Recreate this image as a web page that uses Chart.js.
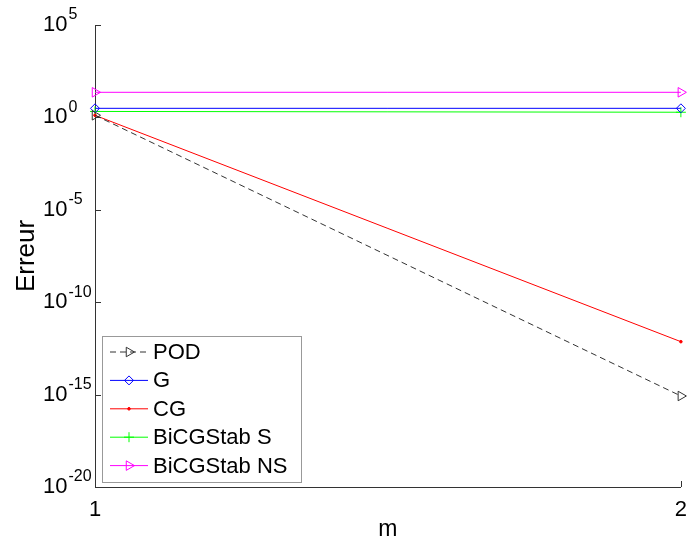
<!DOCTYPE html>
<html>
<head>
<meta charset="utf-8">
<script src="https://cdn.jsdelivr.net/npm/chart.js@4"></script>
<style>
  html, body { margin: 0; padding: 0; background: #fff; }
  #wrap { width: 689px; height: 545px; }
</style>
</head>
<body>
<div id="wrap"><canvas id="chart" width="689" height="545"></canvas></div>
<script>
// x positions (m) and the error values
const mValues = [1, 2];
const podErr = [1.3, 8.4e-16];
const gErr = [3.1, 3.1];
const cgErr = [1.3, 7.3e-13];
const bicgSErr = [2.1, 1.9];
const bicgNSErr = [22.8, 22.8];

const seriesNames = ['POD', 'G', 'CG', 'BiCGStab S', 'BiCGStab NS'];
const yTickExps = [5, 0, -5, -10, -15, -20];
const xTickValues = [1, 2];

const FONT = 'Arial, "Liberation Sans", sans-serif';

function pts(vals) {
    return mValues.map((m, i) => ({ x: m, y: vals[i] }));
}

//Draws the y tick labels as 10 with a raised exponent, the inward ticks and the legend box
const matlabLook = {
    id: 'matlabLook',
    afterDraw(chart) {
        const ctx = chart.ctx;
        const y = chart.scales.y;
        const x = chart.scales.x;
        const area = chart.chartArea;

        ctx.save();
        ctx.strokeStyle = '#333';
        ctx.lineWidth = 1;
        // y ticks pointing inward
        yTickExps.forEach(e => {
            const py = Math.round(y.getPixelForValue(Math.pow(10, e))) + 0.5;
            ctx.beginPath();
            ctx.moveTo(area.left, py);
            ctx.lineTo(area.left + 6, py);
            ctx.stroke();
        });
        // x ticks pointing up
        xTickValues.forEach(v => {
            const px = Math.round(x.getPixelForValue(v)) + 0.5;
            ctx.beginPath();
            ctx.moveTo(px, area.bottom);
            ctx.lineTo(px, area.bottom - 6);
            ctx.stroke();
        });

        // y tick labels: "10" + superscript exponent
        ctx.fillStyle = '#000';
        ctx.textBaseline = 'middle';
        ctx.textAlign = 'left';
        yTickExps.forEach(e => {
            const py = y.getPixelForValue(Math.pow(10, e));
            ctx.font = '22px ' + FONT;
            ctx.fillText('10', 43, py);
            const w = ctx.measureText('10').width;
            ctx.font = '16px ' + FONT;
            ctx.fillText(String(e), 43 + w + 1, py - 10);
        });

        // legend
        const box = { left: 102.5, top: 336.5, right: 301.5, bottom: 482.5 };
        ctx.fillStyle = '#fff';
        ctx.fillRect(box.left, box.top, box.right - box.left, box.bottom - box.top);
        ctx.strokeStyle = '#999';
        ctx.strokeRect(box.left, box.top, box.right - box.left, box.bottom - box.top);

        chart.data.datasets.forEach((ds, i) => {
            const cy = 352 + i * 28.4;
            ctx.save();
            ctx.strokeStyle = ds.borderColor;
            ctx.lineWidth = 1;
            ctx.setLineDash(ds.borderDash || []);
            ctx.beginPath();
            ctx.moveTo(110, cy);
            ctx.lineTo(148, cy);
            ctx.stroke();
            ctx.setLineDash([]);
            ctx.strokeStyle = ds.pointBorderColor;
            ctx.fillStyle = ds.pointBackgroundColor;
            Chart.helpers.drawPoint(ctx, {
                pointStyle: ds.pointStyle,
                rotation: ds.pointRotation || 0,
                radius: ds.pointRadius,
                borderWidth: 1
            }, 129, cy);
            ctx.restore();
            ctx.fillStyle = '#000';
            ctx.font = '22px ' + FONT;
            ctx.textBaseline = 'middle';
            ctx.fillText(ds.label, 153, cy + 1);
        });
        ctx.restore();
    }
};

let ctx = document.getElementById('chart').getContext('2d');

window.chart = new Chart(ctx, {
    type: 'line',
    data: {
        datasets: [{
            label: seriesNames[0],
            data: pts(podErr),
            borderColor: '#333',
            borderDash: [6, 4],
            pointStyle: 'triangle',
            pointRotation: 90,
            pointRadius: 5.5,
            pointBorderColor: '#333',
            pointBackgroundColor: 'rgba(0,0,0,0)'
        }, {
            label: seriesNames[1],
            data: pts(gErr),
            borderColor: '#0000ff',
            pointStyle: 'rectRot',
            pointRadius: 4.5,
            pointBorderColor: '#0000ff',
            pointBackgroundColor: 'rgba(0,0,0,0)'
        }, {
            label: seriesNames[2],
            data: pts(cgErr),
            borderColor: '#ff0000',
            pointStyle: 'circle',
            pointRadius: 1.3,
            pointBorderColor: '#ff0000',
            pointBackgroundColor: '#ff0000'
        }, {
            label: seriesNames[3],
            data: pts(bicgSErr),
            borderColor: '#00ff00',
            pointStyle: 'cross',
            pointRadius: 5,
            pointBorderColor: '#00ff00',
            pointBackgroundColor: 'rgba(0,0,0,0)'
        }, {
            label: seriesNames[4],
            data: pts(bicgNSErr),
            borderColor: '#ff00ff',
            pointStyle: 'triangle',
            pointRotation: 90,
            pointRadius: 5.5,
            pointBorderColor: '#ff00ff',
            pointBackgroundColor: 'rgba(0,0,0,0)'
        }].map(d => Object.assign(d, {
            fill: false, tension: 0, clip: false, borderWidth: 1, pointBorderWidth: 1
        }))
    },
    options: {
        responsive: false,
        animation: false,
        layout: { padding: { top: 25, right: 6, left: 0, bottom: 0 } },
        plugins: {
            legend: { display: false },
            tooltip: { enabled: false }
        },
        scales: {
            x: {
                type: 'linear',
                min: 1,
                max: 2,
                afterBuildTicks: s => { s.ticks = xTickValues.map(v => ({ value: v })); },
                ticks: {
                    color: '#000',
                    font: { family: FONT, size: 22 },
                    padding: 2,
                    callback: v => String(v)
                },
                grid: { display: false },
                border: { display: true, color: '#333', width: 1 },
                title: {
                    display: true,
                    text: 'm',
                    color: '#000',
                    font: { family: FONT, size: 23 },
                    padding: { top: 0, bottom: 2 }
                },
                afterFit: s => { s.height = 58; }
            },
            y: {
                type: 'logarithmic',
                min: 1e-20,
                max: 1e5,
                ticks: { display: false },
                grid: { display: false },
                border: { display: true, color: '#333', width: 1 },
                title: {
                    display: true,
                    text: 'Erreur',
                    color: '#000',
                    font: { family: FONT, size: 26 },
                    padding: { top: 11, bottom: 0 }
                },
                afterFit: s => { s.width = 95; }
            }
        }
    },
    plugins: [matlabLook]
});
</script>
</body>
</html>
